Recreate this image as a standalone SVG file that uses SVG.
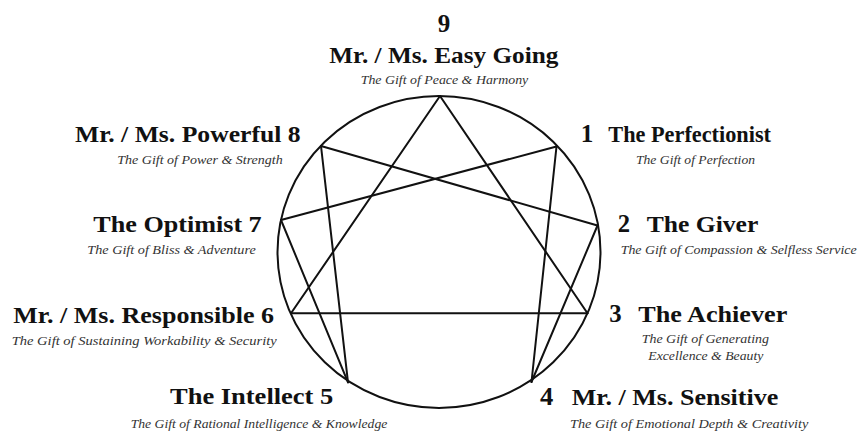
<svg xmlns="http://www.w3.org/2000/svg" width="859" height="432" viewBox="0 0 859 432">
<style>
.num{font-family:"Liberation Serif","Times New Roman",serif;font-weight:bold;font-size:25px;fill:#111}
.title{font-family:"Liberation Serif","Times New Roman",serif;font-weight:bold;font-size:24px;fill:#111}
.sub{font-family:"Liberation Serif","Times New Roman",serif;font-style:italic;font-size:13px;fill:#333}
.ln{stroke:#111;stroke-width:2;fill:none;stroke-linecap:round}
</style>
<rect width="859" height="432" fill="#fff"/>
<ellipse id="circle" cx="439" cy="252" rx="161.5" ry="156" class="ln"/>
<g id="connectors">
<line class="ln" x1="440" y1="96" x2="587.5" y2="313.3"/>
<line class="ln" x1="440" y1="96" x2="291" y2="313.3"/>
<line class="ln" x1="291" y1="313.3" x2="587.5" y2="313.3"/>
<line class="ln" x1="556.5" y1="146.5" x2="531.5" y2="382"/>
<line class="ln" x1="531.5" y1="382" x2="597.5" y2="225.5"/>
<line class="ln" x1="597.5" y1="225.5" x2="321" y2="146"/>
<line class="ln" x1="321" y1="146" x2="348" y2="382.3"/>
<line class="ln" x1="348" y1="382.3" x2="281" y2="220"/>
<line class="ln" x1="281" y1="220" x2="556.5" y2="146.5"/>
</g>
<g id="node9">
<text class="num" x="444" y="32" text-anchor="middle">9</text>
<text class="title" x="329.3" y="63" textLength="229" lengthAdjust="spacingAndGlyphs">Mr. / Ms. Easy Going</text>
<text class="sub" x="360.7" y="83.5" textLength="167.6" lengthAdjust="spacingAndGlyphs">The Gift of Peace &amp; Harmony</text>
</g>
<g id="node8">
<text class="title" x="75" y="142" textLength="225.7" lengthAdjust="spacingAndGlyphs">Mr. / Ms. Powerful 8</text>
<text class="sub" x="117.3" y="163.5" textLength="165.4" lengthAdjust="spacingAndGlyphs">The Gift of Power &amp; Strength</text>
</g>
<g id="node1">
<text class="num" x="580.7" y="142.3" textLength="12.6" lengthAdjust="spacingAndGlyphs">1</text>
<text class="title" x="608.3" y="142.3" textLength="162.7" lengthAdjust="spacingAndGlyphs">The Perfectionist</text>
<text class="sub" x="636" y="163.5" textLength="119" lengthAdjust="spacingAndGlyphs">The Gift of Perfection</text>
</g>
<g id="node7">
<text class="title" x="93.3" y="231.7" textLength="168.4" lengthAdjust="spacingAndGlyphs">The Optimist 7</text>
<text class="sub" x="87.3" y="254.3" textLength="168.4" lengthAdjust="spacingAndGlyphs">The Gift of Bliss &amp; Adventure</text>
</g>
<g id="node2">
<text class="num" x="617.7" y="232.3" textLength="12.3" lengthAdjust="spacingAndGlyphs">2</text>
<text class="title" x="646.7" y="232.3" textLength="111.6" lengthAdjust="spacingAndGlyphs">The Giver</text>
<text class="sub" x="620.7" y="254.3" textLength="236" lengthAdjust="spacingAndGlyphs">The Gift of Compassion &amp; Selfless Service</text>
</g>
<g id="node6">
<text class="title" x="13.3" y="323.3" textLength="260.7" lengthAdjust="spacingAndGlyphs">Mr. / Ms. Responsible 6</text>
<text class="sub" x="11.7" y="345" textLength="265" lengthAdjust="spacingAndGlyphs">The Gift of Sustaining Workability &amp; Security</text>
</g>
<g id="node3">
<text class="num" x="609.3" y="321.7" textLength="12.4" lengthAdjust="spacingAndGlyphs">3</text>
<text class="title" x="638.3" y="321.7" textLength="149" lengthAdjust="spacingAndGlyphs">The Achiever</text>
<text class="sub" x="641.7" y="343.3" textLength="127.3" lengthAdjust="spacingAndGlyphs">The Gift of Generating</text>
<text class="sub" x="648.3" y="360" textLength="115" lengthAdjust="spacingAndGlyphs">Excellence &amp; Beauty</text>
</g>
<g id="node5">
<text class="title" x="170" y="404.3" textLength="163.3" lengthAdjust="spacingAndGlyphs">The Intellect 5</text>
<text class="sub" x="130.7" y="428" textLength="256.6" lengthAdjust="spacingAndGlyphs">The Gift of Rational Intelligence &amp; Knowledge</text>
</g>
<g id="node4">
<text class="num" x="540" y="405" textLength="13.3" lengthAdjust="spacingAndGlyphs">4</text>
<text class="title" x="571.7" y="405" textLength="206.6" lengthAdjust="spacingAndGlyphs">Mr. / Ms. Sensitive</text>
<text class="sub" x="570" y="428" textLength="238.3" lengthAdjust="spacingAndGlyphs">The Gift of Emotional Depth &amp; Creativity</text>
</g>
</svg>
